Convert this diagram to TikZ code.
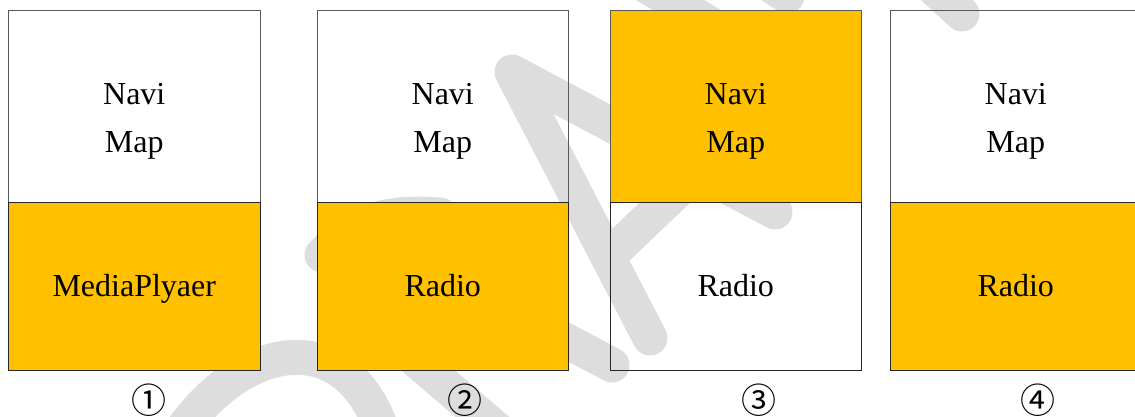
\documentclass[tikz,border=0pt]{standalone}
\usepackage{fontspec}
\setmainfont{Liberation Serif}
\newfontfamily\circfont{Noto Sans CJK SC}
\definecolor{boxorange}{HTML}{FFC000}
\definecolor{wmgray}{HTML}{DDDDDD}
\begin{document}
\begin{tikzpicture}[x=1pt,y=-1pt,
  wm/.style={draw=wmgray,line width=35pt,line cap=round,line join=round},
  panetop/.style={draw=black!65,line width=1pt,minimum width=251.5pt,minimum height=191.5pt,inner sep=0pt,outer sep=0pt},
  panebot/.style={draw=black!85,line width=1pt,minimum width=251.5pt,minimum height=168pt,inner sep=0pt,outer sep=0pt},
  lbl/.style={font=\fontsize{32}{38}\selectfont,anchor=base,inner sep=0pt},
  num/.style={font=\circfont\fontsize{35}{38}\selectfont,inner sep=0pt}]
\useasboundingbox (0,0) rectangle (1135,417);
% watermark
\begin{scope}
\clip (0,0) rectangle (1135,417);
\draw[wm] (175,440) .. controls (240,340) and (350,320) .. (385,440);
\draw[wm] (340,295) -- (500,432);
\draw[wm] (470,290) -- (612,365);
\draw[wm] (322,255) .. controls (350,225) and (380,210) .. (440,215);
\draw[wm] (775,212) -- (512,72) -- (650,338);
\draw[wm] (608,257) -- (720,150);
\draw[wm] (620,-30) -- (720,30);
\draw[wm] (740,-35) -- (787,-4);
\draw[wm] (925,-20) -- (962,14);
\end{scope}
% panel 1
\node[panetop] (p1t) at (134.25,106.25) {};
\node[panebot,fill=boxorange] (p1b) at (134.25,286) {};
% panel 2
\node[panetop] (p2t) at (442.75,106.25) {};
\node[panebot,fill=boxorange] (p2b) at (442.75,286) {};
% panel 3
\node[panetop,fill=boxorange] (p3t) at (735.75,106.25) {};
\node[panebot] (p3b) at (735.75,286) {};
% panel 4
\node[panetop] (p4t) at (1015.75,106.25) {};
\node[panebot,fill=boxorange] (p4b) at (1015.75,286) {};
% texts
\node[lbl] (t1a) at (134.25,105) {Navi};
\node[lbl] (t1b) at (134.25,153) {Map};
\node[lbl] (t1c) at (134.25,296) {MediaPlyaer};
\node[lbl] (t2a) at (442.75,105) {Navi};
\node[lbl] (t2b) at (442.75,153) {Map};
\node[lbl] (t2c) at (442.75,296) {Radio};
\node[lbl] (t3a) at (735.75,105) {Navi};
\node[lbl] (t3b) at (735.75,153) {Map};
\node[lbl] (t3c) at (735.75,296) {Radio};
\node[lbl] (t4a) at (1015.75,105) {Navi};
\node[lbl] (t4b) at (1015.75,153) {Map};
\node[lbl] (t4c) at (1015.75,296) {Radio};
% numbers
\node[num] (n1) at (149,400) {①};
\node[num] (n2) at (464.5,400) {②};
\node[num] (n3) at (759,400) {③};
\node[num] (n4) at (1038,400) {④};
\end{tikzpicture}
\end{document}
